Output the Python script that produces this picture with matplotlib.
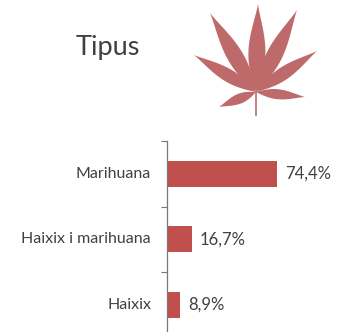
import matplotlib
matplotlib.use("Agg")
import matplotlib.pyplot as plt
import numpy as np
from matplotlib.patches import Polygon

categories = ["Marihuana", "Haixix i marihuana", "Haixix"]
values = [74.4, 16.7, 8.9]
value_labels = ["74,4%", "16,7%", "8,9%"]
title = "Tipus"

plt.rcParams['font.family'] = ['Lato', 'DejaVu Sans']
W, H = 342, 332
text_col = "#404040"
bar_col = "#c0504d"
leaf_col = "#bf6a6a"

fig = plt.figure(figsize=(W/100, H/100), dpi=100, facecolor="white")

# bars: axis line at x=167px, top at 141px, bottom off the image
ax = fig.add_axes([167/W, 0, 1 - 167/W, 1 - 141/H])
pos = [0, 1, 2]
ax.barh(pos, values, height=0.4, color=bar_col)
ax.set_xlim(0, 74.4 * (W - 167) / 110)
ax.set_ylim(2.416, -0.5)
for s in ["top", "right", "bottom"]:
    ax.spines[s].set_visible(False)
ax.spines["left"].set_color("#777777")
ax.spines["left"].set_linewidth(0.9)
ax.set_xticks([])
ax.set_yticks([-0.5, 0.5, 1.5])
ax.set_yticklabels([])
ax.tick_params(axis="y", length=4.5, width=0.8, color="#777777")
for i, c in enumerate(categories):
    ax.annotate(c, (0, i), xytext=(-11.5, 0), textcoords="offset points", ha="right", va="center",
                fontsize=11.5, color=text_col, annotation_clip=False)
for i, v in enumerate(values):
    ax.annotate(value_labels[i], (v, i), xytext=(5.5, 0), textcoords="offset points", ha="left", va="center",
                fontsize=12, color=text_col, annotation_clip=False)

fig.text(108/W, 1 - 48/H, title, ha="center", va="center", fontsize=19.5, color=text_col)

# leaf, in pixel coordinates of the image
leaf_ax = fig.add_axes([0, 0, 1, 1], facecolor="none")
leaf_ax.set_xlim(0, W)
leaf_ax.set_ylim(H, 0)
leaf_ax.axis("off")
base = np.array([256.0, 92.0])
leaflets = [
    ((258, 4), 8.5),
    ((210, 13), 8),
    ((297, 10), 8),
    ((194, 55), 6.5),
    ((317, 51), 6.5),
    ((219, 107), 5),
    ((305, 97), 5),
]
t = np.linspace(0, 1, 30)
prof = np.sin(np.pi * t ** 0.85) ** 1.2
for tip, hw in leaflets:
    d = np.array(tip) - base
    n = np.array([-d[1], d[0]]) / np.hypot(*d)
    mid = base + np.outer(t, d)
    left = mid + np.outer(prof * hw, n)
    right = mid - np.outer(prof * hw, n)
    leaf_ax.add_patch(Polygon(np.vstack([left, right[::-1]]), closed=True, fc=leaf_col, ec="none"))
leaf_ax.plot([256, 256], [92, 115], color=leaf_col, lw=1.2)

fig.savefig("out.png", dpi=100)
